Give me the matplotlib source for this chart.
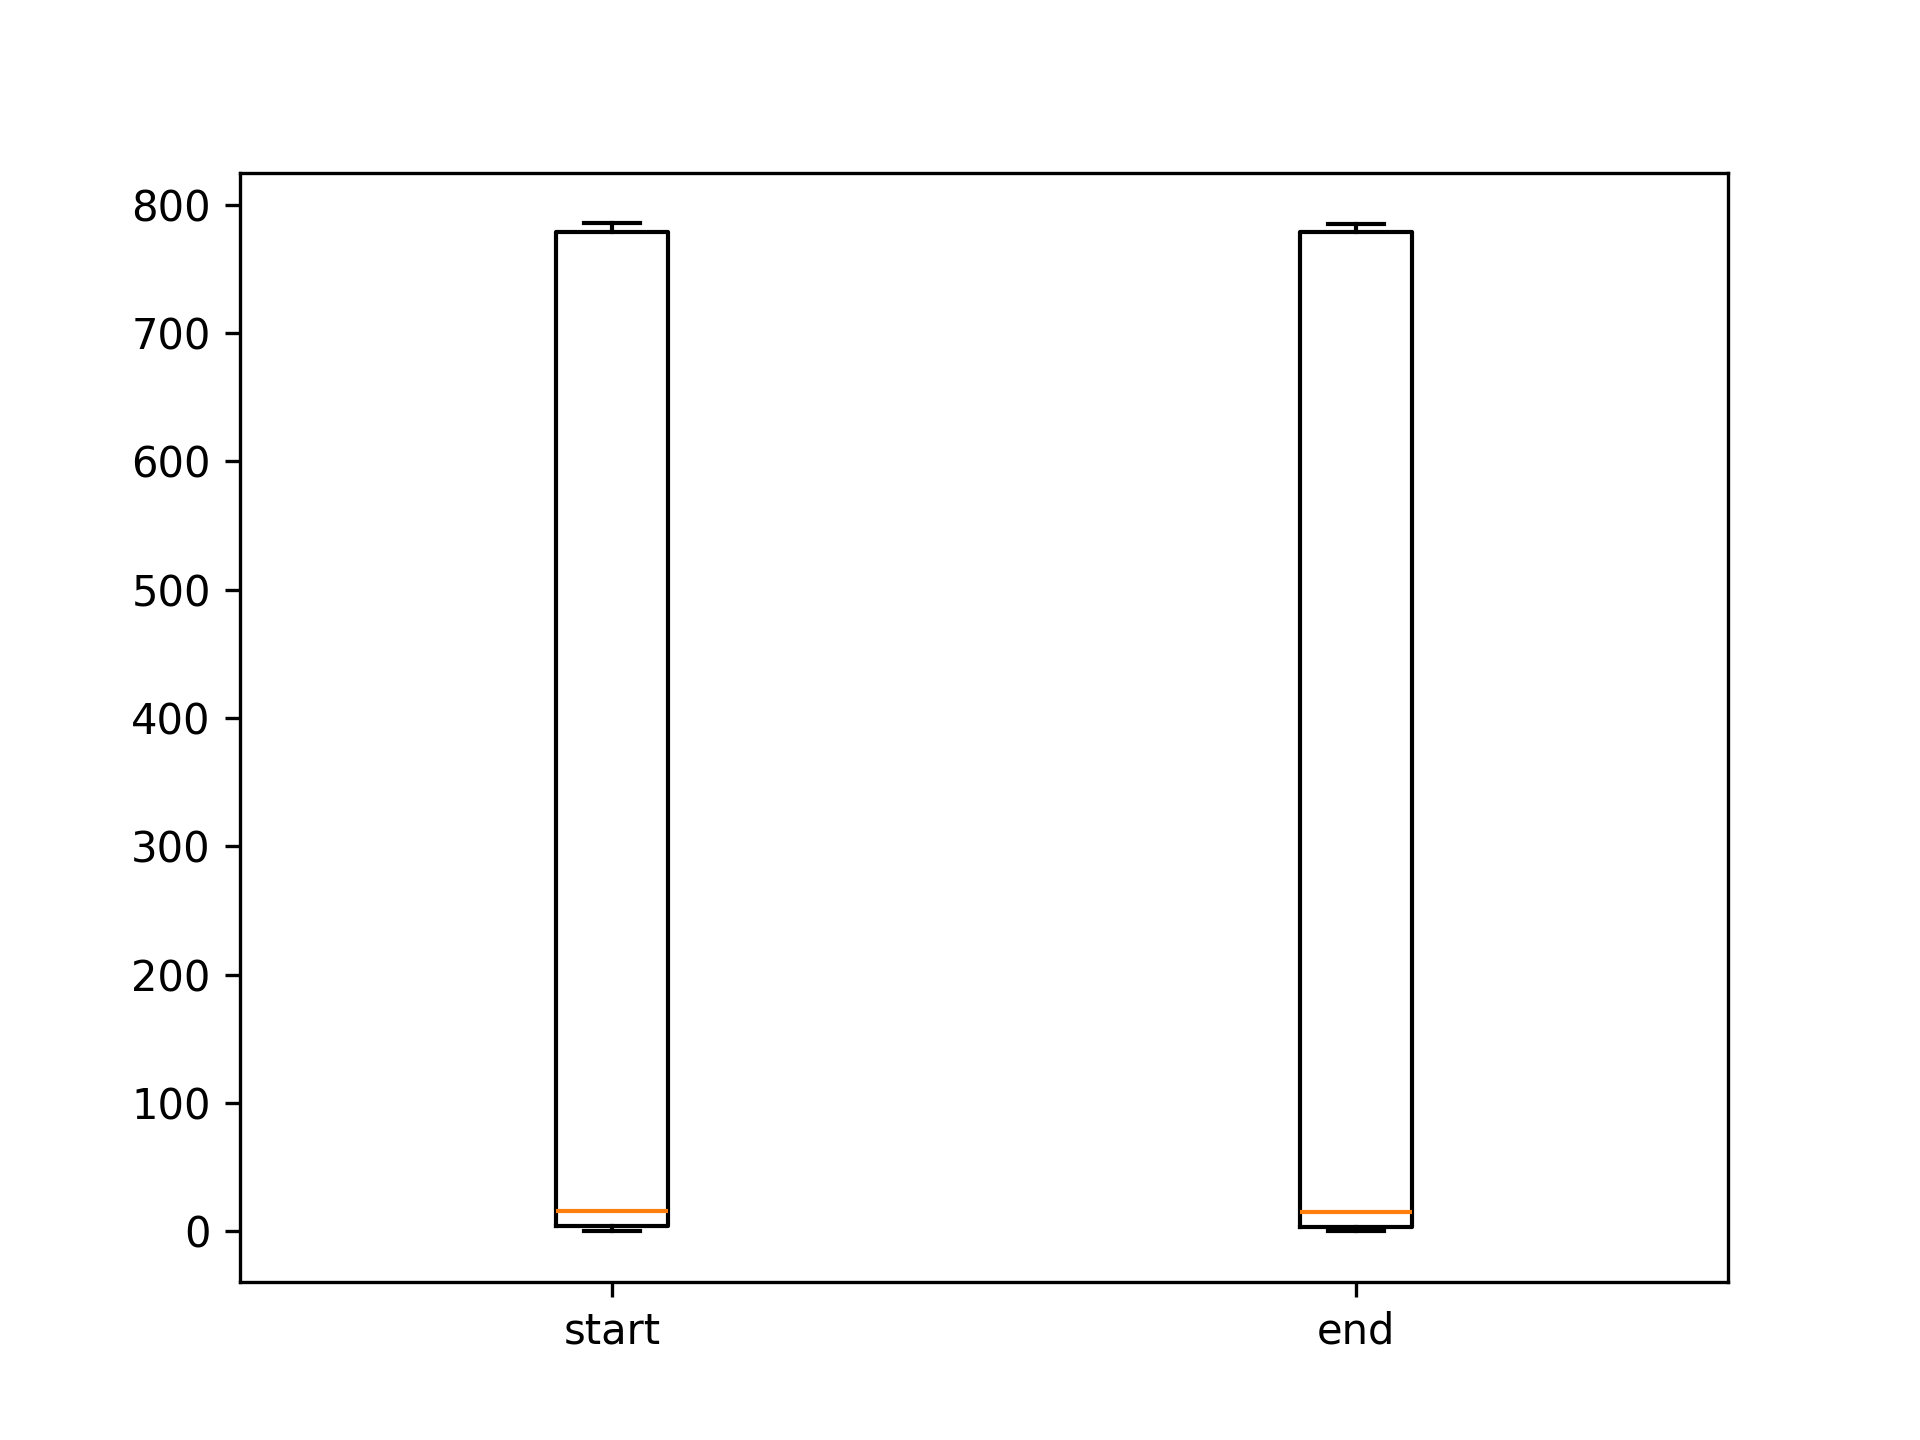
import matplotlib
matplotlib.use("Agg")
import matplotlib.pyplot as plt

labels = ["start", "end"]
start_values = [0.0, 4.0, 15.8, 779.0, 785.5]
end_values = [0.0, 3.4, 14.8, 778.5, 784.8]

fig, ax = plt.subplots(figsize=(6.4, 4.8), dpi=300)
ax.boxplot([start_values, end_values], tick_labels=labels)
fig.savefig("out.png", dpi=300)
